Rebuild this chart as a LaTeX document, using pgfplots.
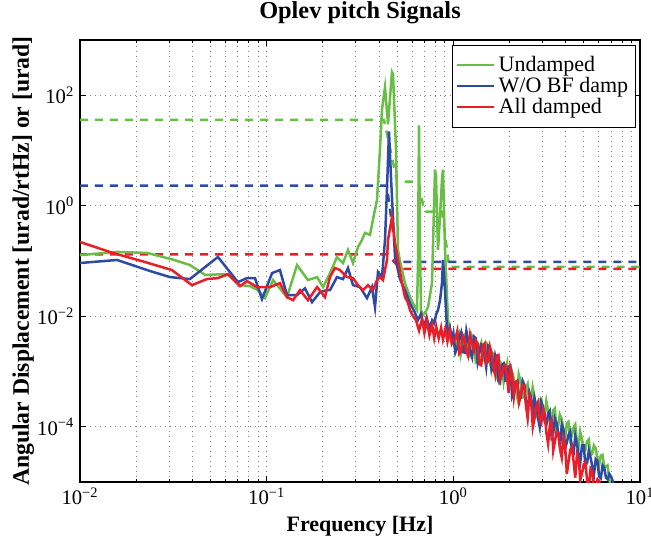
\documentclass[border=0pt]{standalone}
\usepackage{fontspec}
\setmainfont{Liberation Serif}
\usepackage{pgfplots}
\pgfplotsset{compat=1.18}
\definecolor{cgreen}{RGB}{105,190,70}
\definecolor{cblue}{RGB}{45,75,165}
\definecolor{cred}{RGB}{235,30,40}
\begin{document}
\begin{tikzpicture}
\begin{axis}[
    name=ax,
    scale only axis,
    width=336pt, height=265.2pt,
    xmode=log, ymode=log,
    xmin=0.01, xmax=10, ymin=1e-5, ymax=1e3,
    xtick={0.01,0.1,1,10},
    xticklabels={10\textsuperscript{−2},10\textsuperscript{−1},10\textsuperscript{0},10\textsuperscript{1}},
    ytick={1e-4,1e-2,1,1e2},
    yticklabels={10\textsuperscript{−4},10\textsuperscript{−2},10\textsuperscript{0},10\textsuperscript{2}},
    minor y tick style={draw=none},
    xmajorgrids, xminorgrids, ymajorgrids,
    major grid style={gray, line width=0.5pt, dash pattern=on 0.6pt off 2.4pt},
    minor grid style={gray, line width=0.5pt, dash pattern=on 0.6pt off 2.4pt},
    tick align=inside,
    major tick length=3.6pt, minor tick length=2pt,
    every tick/.style={black, line width=0.5pt},
    axis line style={black, line width=0.8pt},
    tick label style={font=\fontsize{12.4}{14}\selectfont},
    label style={font=\bfseries\fontsize{13.2}{15}\selectfont},
    ylabel style={font=\bfseries\fontsize{14.2}{16}\selectfont},
    ylabel shift=-5pt,
    title style={font=\bfseries\fontsize{14.6}{17}\selectfont},
    title={Oplev pitch Signals},
    xlabel={Frequency [Hz]},
    ylabel={Angular Displacement [urad/rtHz] or [urad]},
    legend style={at={(1,1)}, anchor=north east, xshift=-2.4pt, yshift=-3pt,
        font=\fontsize{13.2}{15}\selectfont, draw=black,
        inner xsep=2.5pt, inner ysep=4.5pt, row sep=-2pt},
    legend cell align=left,
    legend image code/.code={\draw[#1, line width=1.5pt] (0pt,0pt) -- (22pt,0pt);},
]
% cumulative rms (dashed)
\addplot[cgreen, line width=1.5pt, dash pattern=on 4.8pt off 4.2pt, forget plot] coordinates {
(0.01,36)(0.425,36)(0.5,2.73)(0.65,2.73)(0.7,0.78)(0.87,0.78)(0.95,0.078)(10,0.078)};
\addplot[cblue, line width=1.5pt, dash pattern=on 4.8pt off 4.2pt, forget plot] coordinates {
(0.01,2.31)(0.44,2.31)(0.5,0.096)(10,0.096)};
\addplot[cred, line width=1.5pt, dash pattern=on 4.8pt off 4.2pt, forget plot] coordinates {
(0.01,0.132)(0.445,0.132)(0.52,0.072)(10,0.072)};

% Undamped
\addplot[cgreen, line width=1.5pt] coordinates {
(0.0100,0.128)(0.0158,0.146)(0.0229,0.140)(0.0315,0.106)(0.0388,0.0846)(0.0468,0.056)(0.0613,0.058)
(0.0720,0.0366)(0.0815,0.0351)(0.0898,0.0297)(0.0980,0.0213)(0.1082,0.0452)(0.1285,0.0222)
(0.1454,0.0846)(0.1664,0.0452)(0.1862,0.0512)(0.2004,0.0337)(0.2184,0.060)(0.2380,0.118)
(0.2564,0.0920)(0.2727,0.1585)(0.2901,0.0920)(0.3085,0.1798)(0.3241,0.241)(0.3363,0.3229)
(0.3577,0.2972)(0.3710,0.5565)(0.3900,1.286)(0.4046,10.4)(0.4147,55.6)(0.4305,140)(0.4467,29.7)
(0.4692,262)(0.4751,241)(0.4932,10.4)(0.5052,0.1585)(0.5179,0.1)(0.5508,0.0398)(0.5861,0.0222)
(0.6083,0.017)(0.6389,0.0129)(0.6467,0.1)(0.6546,28.5)(0.6630,0.2)(0.6711,0.0129)(0.6877,0.0105)
(0.7047,0.0113)(0.7314,0.0146)(0.7685,0.0398)(0.7976,4.51)(0.8074,3.5)(0.8277,0.158)(0.8483,0.631)
(0.8694,3.0)(0.8803,4.51)(0.9024,0.1585)(0.9363,0.00846)(0.96,0.006)(0.98,0.0042)
(1.02,2.6e-3)(1.045,4.3e-3)(1.07,5.0e-3)(1.095,2.0e-3)(1.12,2.8e-3)(1.145,4.4e-3)(1.17,5.0e-3)
(1.195,2.3e-3)(1.22,2.0e-3)(1.255,4.4e-3)(1.29,3.4e-3)(1.32,1.45e-3)(1.35,1.5e-3)(1.38,2.7e-3)
(1.41,3.3e-3)(1.44,1.6e-3)(1.47,1.8e-3)(1.50,3.3e-3)(1.53,3.0e-3)(1.565,1.55e-3)(1.60,1.07e-3)
(1.635,2.1e-3)(1.67,1.9e-3)(1.705,8.3e-4)(1.74,6.9e-4)(1.78,1.5e-3)(1.82,1.35e-3)(1.86,6.6e-4)
(1.90,1.05e-3)(1.94,1.4e-3)(1.98,5.2e-4)(2.02,6.2e-4)(2.06,1.0e-3)(2.105,7.6e-4)(2.15,5.1e-4)
(2.195,3.6e-4)(2.24,8.9e-4)(2.295,6.5e-4)(2.35,3.4e-4)(2.40,3.4e-4)(2.45,5.0e-4)(2.50,5.9e-4)
(2.55,2.75e-4)(2.605,3.0e-4)(2.66,5.2e-4)(2.715,3.7e-4)(2.77,1.74e-4)(2.835,1.45e-4)(2.90,3.1e-4)
(2.96,3.2e-4)(3.02,1.95e-4)(3.085,1.6e-4)(3.15,2.9e-4)(3.215,2.0e-4)(3.28,1.2e-4)(3.355,1.0e-4)
(3.43,2.0e-4)(3.50,2.15e-4)(3.57,8.1e-5)(3.645,1.05e-4)(3.72,1.66e-4)(3.805,1.38e-4)(3.89,9.1e-5)
(3.97,6.0e-5)(4.05,1.15e-4)(4.135,1.23e-4)(4.22,5.9e-5)(4.315,6.9e-5)(4.41,9.8e-5)(4.50,1.1e-4)
(4.59,5.4e-5)(4.685,4.3e-5)(4.78,8.1e-5)(4.885,6.0e-5)(4.99,3.9e-5)(5.095,3.8e-5)(5.20,5.4e-5)
(5.315,5.9e-5)(5.43,3.1e-5)(5.545,3.2e-5)(5.66,4.6e-5)(5.785,4.1e-5)(5.91,2.7e-5)(6.035,2.0e-5)
(6.16,3.0e-5)(6.295,3.1e-5)(6.43,1.9e-5)(6.565,1.9e-5)(6.70,2.0e-5)(6.85,1.1e-5)(7.0,8e-6)};
\addlegendentry{Undamped}

% W/O BF damp
\addplot[cblue, line width=1.5pt] coordinates {
(0.0100,0.092)(0.0158,0.1043)(0.0237,0.066)(0.0303,0.0512)(0.0388,0.0471)(0.0548,0.1182)
(0.0702,0.0415)(0.0785,0.0491)(0.0866,0.0491)(0.0944,0.0204)(0.1069,0.0605)(0.1178,0.0686)
(0.1285,0.0241)(0.1454,0.0241)(0.1604,0.0320)(0.1750,0.0180)(0.1931,0.0273)(0.2104,0.0297)
(0.2184,0.0297)(0.2380,0.0512)(0.2564,0.0470)(0.2727,0.0746)(0.2901,0.0366)(0.3162,0.0337)
(0.3447,0.0213)(0.3666,0.0337)(0.3805,0.0146)(0.3948,0.0631)(0.4147,0.0512)(0.4305,0.241)
(0.4411,2.0)(0.4522,22.1)(0.4640,3.0)(0.4870,0.118)(0.5179,0.0471)(0.5508,0.0297)(0.5861,0.0172)
(0.62,0.012)(0.645,0.0085)(0.67,0.011)(0.695,0.0065)(0.72,0.0095)(0.745,0.006)(0.77,0.0085)
(0.79,0.0075)(0.81,0.011)(0.8277,0.0129)(0.85,0.02)(0.8694,0.0398)(0.8803,0.1043)(0.9024,0.0297)
(0.92,0.008)(0.94,0.0045)(0.96,0.006)(0.98,0.0038)
(1.00,5.0e-3)(1.025,2.2e-3)(1.05,2.7e-3)(1.075,4.2e-3)(1.10,5.1e-3)(1.125,2.24e-3)(1.15,2.2e-3)
(1.175,5.4e-3)(1.20,3.7e-3)(1.23,2.3e-3)(1.26,1.8e-3)(1.29,4.3e-3)(1.32,4.0e-3)(1.35,1.5e-3)
(1.38,2.2e-3)(1.41,3.1e-3)(1.44,3.0e-3)(1.47,1.9e-3)(1.50,1.2e-3)(1.535,2.9e-3)(1.57,2.7e-3)
(1.605,1.05e-3)(1.64,1.2e-3)(1.675,1.95e-3)(1.71,1.45e-3)(1.745,6.8e-4)(1.78,6.3e-4)(1.82,1.3e-3)
(1.86,1.4e-3)(1.90,6.9e-4)(1.94,7.2e-4)(1.98,1.23e-3)(2.02,1.26e-3)(2.065,3.5e-4)(2.11,4.2e-4)
(2.155,6.5e-4)(2.20,6.8e-4)(2.25,3.5e-4)(2.30,3.4e-4)(2.35,6.8e-4)(2.40,5.8e-4)(2.45,2.75e-4)
(2.50,1.7e-4)(2.555,4.2e-4)(2.61,3.3e-4)(2.665,1.6e-4)(2.72,3.3e-4)(2.78,2.45e-4)(2.84,1.45e-4)
(2.90,1.0e-4)(2.96,2.8e-4)(3.025,2.3e-4)(3.09,1.2e-4)(3.155,1.12e-4)(3.22,1.75e-4)(3.29,1.95e-4)
(3.36,6.5e-5)(3.43,7.6e-5)(3.50,1.4e-4)(3.575,1.15e-4)(3.65,7.6e-5)(3.73,4.4e-5)(3.81,1.1e-4)
(3.89,8.9e-5)(3.97,4.0e-5)(4.055,5.2e-5)(4.14,7.1e-5)(4.23,8.3e-5)(4.32,3.5e-5)(4.41,3.3e-5)
(4.50,6.9e-5)(4.595,4.9e-5)(4.69,3.1e-5)(4.79,2.3e-5)(4.89,4.6e-5)(4.995,4.6e-5)(5.10,2.0e-5)
(5.21,2.24e-5)(5.32,3.7e-5)(5.435,2.75e-5)(5.55,1.95e-5)(5.67,1.38e-5)(5.79,2.6e-5)(5.915,2.4e-5)
(6.04,1.26e-5)(6.17,1.17e-5)(6.30,2.0e-5)(6.435,1.8e-5)(6.57,1.2e-5)(6.71,1.12e-5)(6.85,1.4e-5)
(6.995,1.26e-5)(7.14,1.05e-5)(7.295,8e-6)(7.45,7.2e-6)};
\addlegendentry{W/O BF damp}

% All damped
\addplot[cred, line width=1.5pt] coordinates {
(0.0100,0.2215)(0.0150,0.1397)(0.0218,0.098)(0.0311,0.0686)(0.0398,0.0366)(0.0479,0.0471)
(0.0548,0.0491)(0.0621,0.0580)(0.0720,0.0351)(0.0785,0.0433)(0.0888,0.0337)(0.1042,0.0337)
(0.1178,0.0398)(0.1285,0.0222)(0.1384,0.0195)(0.1509,0.0297)(0.1664,0.0195)(0.1862,0.0337)
(0.2053,0.0222)(0.2184,0.0512)(0.2323,0.0746)(0.2472,0.0686)(0.2692,0.0512)(0.2901,0.0491)
(0.3085,0.0366)(0.3281,0.0297)(0.3489,0.0366)(0.3710,0.0297)(0.3900,0.0452)(0.4046,0.0512)
(0.4198,0.0452)(0.4411,0.1043)(0.4467,0.241)(0.4692,0.62)(0.4870,0.2125)(0.5052,0.1043)
(0.5309,0.0398)(0.5508,0.0222)(0.5700,0.018)(0.5861,0.0129)(0.6000,0.011)(0.6150,0.0095)
(0.6308,0.0085)(0.655,0.0055)(0.68,0.009)(0.70,0.005)(0.72,0.0085)(0.745,0.0045)(0.77,0.007)
(0.79,0.004)(0.81,0.0065)(0.835,0.004)(0.86,0.0062)(0.88,0.0038)(0.905,0.0058)(0.93,0.0035)
(0.955,0.0055)(0.98,0.0032)(1.0,0.0037)
(1.025,3.9e-3)(1.05,5.4e-3)(1.075,2.1e-3)(1.10,2.3e-3)(1.125,4.5e-3)(1.15,3.9e-3)(1.175,2.3e-3)
(1.20,1.9e-3)(1.23,4.6e-3)(1.26,3.2e-3)(1.29,2.4e-3)(1.32,3.6e-3)(1.35,3.2e-3)(1.38,1.35e-3)
(1.41,1.3e-3)(1.44,2.95e-3)(1.47,3.2e-3)(1.50,1.4e-3)(1.535,1.5e-3)(1.57,2.8e-3)(1.605,2.1e-3)
(1.64,1.17e-3)(1.675,8.7e-4)(1.71,1.95e-3)(1.745,2.0e-3)(1.78,7.1e-4)(1.82,8.7e-4)(1.86,1.24e-3)
(1.90,1.3e-3)(1.94,7.8e-4)(1.98,4.1e-4)(2.02,1.18e-3)(2.065,8.7e-4)(2.11,3.5e-4)(2.155,6.3e-4)
(2.20,6.6e-4)(2.25,2.75e-4)(2.30,3.7e-4)(2.35,5.8e-4)(2.40,5.5e-4)(2.45,2.4e-4)(2.50,1.45e-4)
(2.555,3.7e-4)(2.61,3.0e-4)(2.665,9.8e-5)(2.72,1.4e-4)(2.78,2.3e-4)(2.84,2.75e-4)(2.90,1.4e-4)
(2.96,1.18e-4)(3.025,2.1e-4)(3.09,1.66e-4)(3.155,7.6e-5)(3.22,4.9e-5)(3.29,1.07e-4)(3.36,1.29e-4)
(3.43,3.7e-5)(3.50,5.4e-5)(3.575,8.1e-5)(3.65,7.8e-5)(3.73,4.0e-5)(3.81,2.8e-5)(3.89,6.2e-5)
(3.97,4.7e-5)(4.055,1.4e-5)(4.14,2.3e-5)(4.23,3.8e-5)(4.32,4.4e-5)(4.41,2.3e-5)(4.50,1.2e-5)
(4.595,3.2e-5)(4.69,2.6e-5)(4.79,1.1e-5)(4.89,1.45e-5)(4.995,2.1e-5)(5.10,2.24e-5)(5.21,1.05e-5)
(5.32,7.9e-6)(5.435,1.74e-5)(5.55,1.55e-5)(5.67,7.2e-6)(5.79,8.5e-6)(5.915,1.12e-5)(6.04,1.05e-5)
(6.17,6.9e-6)(6.30,6.4e-6)(6.45,5e-6)};
\addlegendentry{All damped}
\end{axis}
\pgfresetboundingbox
\path ([shift={(-48pt,-36.6pt)}]ax.south west) rectangle ([shift={(6.6pt,24pt)}]ax.north east);
\end{tikzpicture}
\end{document}
